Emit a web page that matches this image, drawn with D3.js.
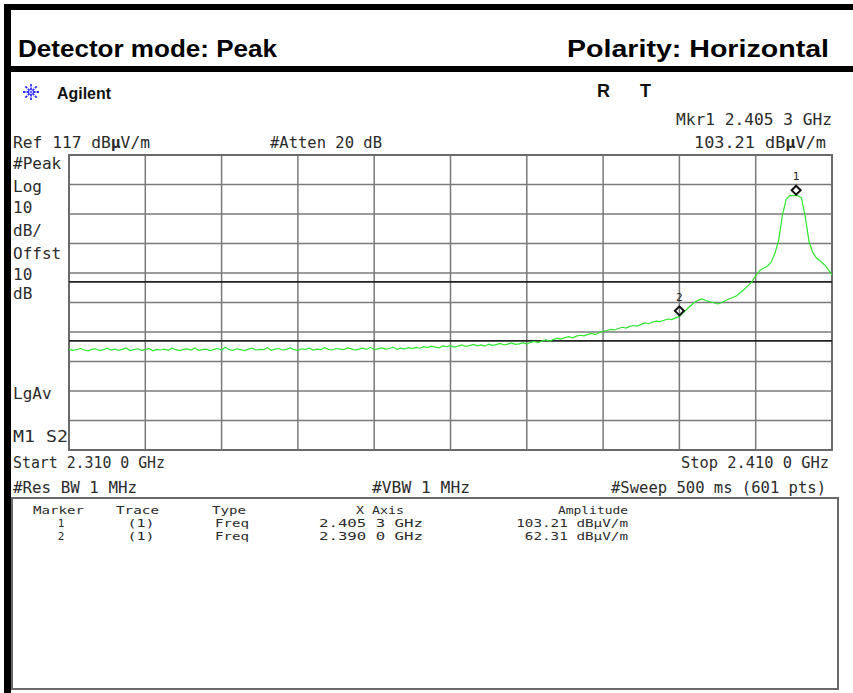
<!DOCTYPE html>
<html>
<head>
<meta charset="utf-8">
<script src="https://cdn.jsdelivr.net/npm/d3@7"></script>
<style>
  html,body{margin:0;padding:0;background:#fff;}
  svg{display:block;}
</style>
</head>
<body>
<svg id="chart" width="853" height="693"></svg>
<script>
// ---------------- DATA ----------------
const sweepStartMHz = 2310;
const sweepStopMHz = 2410;
const traceStepMHz = 0.5;
// Trace levels (dBµV/m), one every 0.5 MHz from 2310.0 to 2410.0 MHz
const traceLevels = [
  51.2, 50.8, 51.0, 51.4, 50.9, 50.6, 51.1, 51.3, 50.7, 51.0,
  51.5, 50.9, 51.2, 50.8, 51.1, 51.6, 50.7, 51.0, 51.3, 50.8,
  51.0, 51.4, 50.6, 51.1, 50.9, 51.2, 50.8, 51.5, 51.0, 50.7,
  51.1, 51.3, 50.9, 51.6, 50.8, 51.0, 51.2, 50.7, 51.1, 51.4,
  50.9, 51.8, 51.0, 50.8, 51.3, 51.0, 50.7, 51.2, 51.5, 50.9,
  51.1, 51.0, 51.7, 50.8, 51.2, 51.4, 50.9, 51.1, 51.6, 51.0,
  50.8, 51.3, 51.1, 51.5, 50.9, 51.2, 51.0, 51.7, 51.1, 50.9,
  51.4, 51.2, 51.0, 51.6, 51.3, 50.9, 51.2, 51.5, 51.1, 51.8,
  51.0, 51.3, 51.6, 51.2, 51.4, 51.9, 51.1, 51.5, 51.3, 51.7,
  51.4,
  51.8, 51.5, 52.0, 51.7, 52.2, 51.9, 51.6, 52.3, 52.0, 52.4,
  51.9, 52.2, 52.6, 52.1, 52.4, 52.8, 52.3, 52.6, 52.2, 52.9,
  52.5, 52.7, 53.1, 52.6, 52.9, 53.3, 52.8, 53.0, 53.4, 52.9,
  53.5, 53.8, 53.4, 54.0, 54.3, 53.9, 54.5, 54.9, 54.6, 55.1,
  55.4, 55.0, 55.6, 55.9, 55.7, 56.2, 56.5, 56.1, 56.8, 57.2,
  57.5, 57.9, 57.7, 58.2, 58.6, 58.3, 58.9, 59.2, 59.0, 59.6,
  60.1, 59.8, 60.4, 60.7, 60.5, 61.0, 61.4, 61.2, 61.8, 62.3,
  63.5, 64.8, 66.0, 67.1, 67.8, 68.2, 67.6, 67.3, 66.9, 66.5,
  66.9, 67.6, 68.2, 68.7, 69.3, 70.4, 71.5, 72.7, 74.0, 76.0,
  77.8, 78.6, 79.2, 80.6, 83.5, 88.0, 96.5, 102.0, 103.3, 103.2,
  103.2, 102.5, 96.0, 87.5, 83.8, 82.0, 81.0, 79.8, 78.2, 76.3
];
const gridFreqsMHz = [2310, 2320, 2330, 2340, 2350, 2360, 2370, 2380, 2390, 2400, 2410];
const gridLevels = [117, 107, 97, 87, 77, 67, 57, 47, 37, 27, 17];
const limitLevels = [74, 54];
const markerIds = [1, 2];
const markerFreqsMHz = [2405.3, 2390.0];
const markerAmps = [103.21, 62.31];
const markerFreqLabels = ["2.405 3 GHz", "2.390 0 GHz"];
const markerAmpLabels = ["103.21 dBµV/m", "62.31 dBµV/m"];
const leftLabels = ["#Peak", "Log", "10", "dB/", "Offst", "10", "dB"];

// ---------------- LAYOUT ----------------
const svg = d3.select("#chart");
const plot = {left: 69, right: 832, top: 155, bottom: 450};
const x = d3.scaleLinear().domain([sweepStartMHz, sweepStopMHz]).range([plot.left, plot.right]);
const y = d3.scaleLinear().domain([17, 117]).range([plot.bottom, plot.top]);

const MONO = "'DejaVu Sans Mono', monospace";
const SANS = "'Liberation Sans', Arial, sans-serif";
const TXT = "#2b2b2b";

function txt(px, py, str, o = {}) {
  const t = svg.append("text")
    .attr("x", px).attr("y", py)
    .attr("font-family", o.family || MONO)
    .attr("font-size", o.size || 16)
    .attr("font-weight", o.weight || "normal")
    .attr("fill", o.fill || TXT)
    .attr("text-anchor", o.anchor || "start");
  if (o.width) t.attr("textLength", o.width).attr("lengthAdjust", "spacingAndGlyphs");
  if (o.boldMu && str.includes("µ")) {
    const parts = str.split("µ");
    t.append("tspan").text(parts[0]);
    t.append("tspan").attr("font-weight", "bold").text("µ");
    t.append("tspan").text(parts[1]);
  } else {
    t.text(str);
  }
  return t;
}

// ---------------- FRAME ----------------
svg.append("rect").attr("x", 4).attr("y", 4).attr("width", 849).attr("height", 6).attr("fill", "#000");
svg.append("rect").attr("x", 4).attr("y", 4).attr("width", 7).attr("height", 689).attr("fill", "#000");
svg.append("rect").attr("x", 4).attr("y", 66).attr("width", 849).attr("height", 6).attr("fill", "#000");

txt(18, 57, "Detector mode: Peak", {family: SANS, weight: "bold", size: 24, fill: "#000", width: 259});
txt(567, 57, "Polarity: Horizontal", {family: SANS, weight: "bold", size: 24, fill: "#000", width: 262});

// Agilent logo
const logo = svg.append("g").attr("transform", "translate(31,92)");
d3.range(8).forEach(k => {
  const a = k * Math.PI / 4;
  logo.append("line")
    .attr("x1", Math.cos(a) * 2).attr("y1", Math.sin(a) * 2)
    .attr("x2", Math.cos(a) * 8.5).attr("y2", Math.sin(a) * 8.5)
    .attr("stroke", "#2f2fff").attr("stroke-width", 1.8)
    .attr("stroke-dasharray", "2.5,1");
});
logo.append("circle").attr("r", 1.6).attr("fill", "#6b6bff");
txt(57, 99, "Agilent", {family: SANS, weight: "bold", size: 16, fill: "#111", width: 54});
txt(597, 97, "R", {family: SANS, weight: "bold", size: 18, fill: "#111"});
txt(640, 97, "T", {family: SANS, weight: "bold", size: 18, fill: "#111"});

// Header text lines
txt(832, 125, "Mkr1  2.405 3 GHz", {anchor: "end", width: 156});
txt(826, 148, "103.21 dBµV/m", {anchor: "end", width: 132, boldMu: true});
txt(13, 148, "Ref 117 dBµV/m", {width: 137, boldMu: true});
txt(270, 148, "#Atten 20 dB", {width: 112});

// Left labels
const leftY = [169, 192, 213, 236, 259, 280, 299];
leftLabels.forEach((s, i) => txt(13, leftY[i], s));
txt(13, 399, "LgAv");
txt(13, 442, "M1 S2", {width: 55});

// Bottom labels
txt(13, 468, "Start 2.310 0 GHz", {width: 152});
txt(13, 493, "#Res BW 1 MHz", {width: 124});
txt(372, 493, "#VBW 1 MHz", {width: 98});
txt(829, 468, "Stop 2.410 0 GHz", {anchor: "end", width: 148});
txt(826, 493, "#Sweep 500 ms (601 pts)", {anchor: "end", width: 215});

// ---------------- GRID ----------------
const grid = svg.append("g");
grid.selectAll("line.v").data(gridFreqsMHz).join("line")
  .attr("x1", d => x(d)).attr("x2", d => x(d))
  .attr("y1", plot.top).attr("y2", plot.bottom)
  .attr("stroke", "#7a7a7a").attr("stroke-width", 1.5);
grid.selectAll("line.h").data(gridLevels).join("line")
  .attr("x1", plot.left).attr("x2", plot.right)
  .attr("y1", d => y(d)).attr("y2", d => y(d))
  .attr("stroke", "#7a7a7a").attr("stroke-width", 1.5);
svg.append("rect")
  .attr("x", plot.left).attr("y", plot.top)
  .attr("width", plot.right - plot.left).attr("height", plot.bottom - plot.top)
  .attr("fill", "none").attr("stroke", "#6a6a6a").attr("stroke-width", 2);

// Limit / display lines
svg.selectAll("line.lim").data(limitLevels).join("line")
  .attr("x1", plot.left).attr("x2", plot.right)
  .attr("y1", d => y(d)).attr("y2", d => y(d))
  .attr("stroke", "#222").attr("stroke-width", 1.6);

// ---------------- TRACE ----------------
const tracePts = traceLevels.map((v, i) => [sweepStartMHz + i * traceStepMHz, v]);
svg.append("path")
  .datum(tracePts)
  .attr("fill", "none")
  .attr("stroke", "#2ee62e")
  .attr("stroke-width", 1.2)
  .attr("d", d3.line().x(d => x(d[0])).y(d => y(d[1])));

// ---------------- MARKERS ----------------
markerIds.forEach((id, i) => {
  const cx = x(markerFreqsMHz[i]);
  const cy = y(markerAmps[i]) - 5.5;
  svg.append("path")
    .attr("d", `M${cx},${cy - 4.5}L${cx + 4.5},${cy}L${cx},${cy + 4.5}L${cx - 4.5},${cy}Z`)
    .attr("fill", "none").attr("stroke", "#111").attr("stroke-width", 2);
  txt(cx, cy - 10, String(id), {anchor: "middle", size: 11, fill: "#222"});
});

// ---------------- MARKER TABLE ----------------
svg.append("rect")
  .attr("x", 12).attr("y", 498).attr("width", 826).attr("height", 191)
  .attr("fill", "#fff").attr("stroke", "#6a6a6a").attr("stroke-width", 2);

const TS = 11;
const headY = 514;
txt(33, headY, "Marker", {size: TS, width: 51});
txt(116, headY, "Trace", {size: TS, width: 43});
txt(212, headY, "Type", {size: TS, width: 34});
txt(380, headY, "X Axis", {size: TS, anchor: "middle", width: 48});
txt(628, headY, "Amplitude", {size: TS, anchor: "end", width: 70});
const rowY = [527, 540];
markerIds.forEach((id, i) => {
  txt(61, rowY[i], String(id), {size: TS, anchor: "middle"});
  txt(141, rowY[i], "(1)", {size: TS, anchor: "middle", width: 27});
  txt(215, rowY[i], "Freq", {size: TS, width: 34});
  txt(371, rowY[i], markerFreqLabels[i], {size: TS, anchor: "middle", width: 104});
  txt(628, rowY[i], markerAmpLabels[i], {size: TS, anchor: "end", width: markerAmpLabels[i].length * 8.6});
});
</script>
</body>
</html>
